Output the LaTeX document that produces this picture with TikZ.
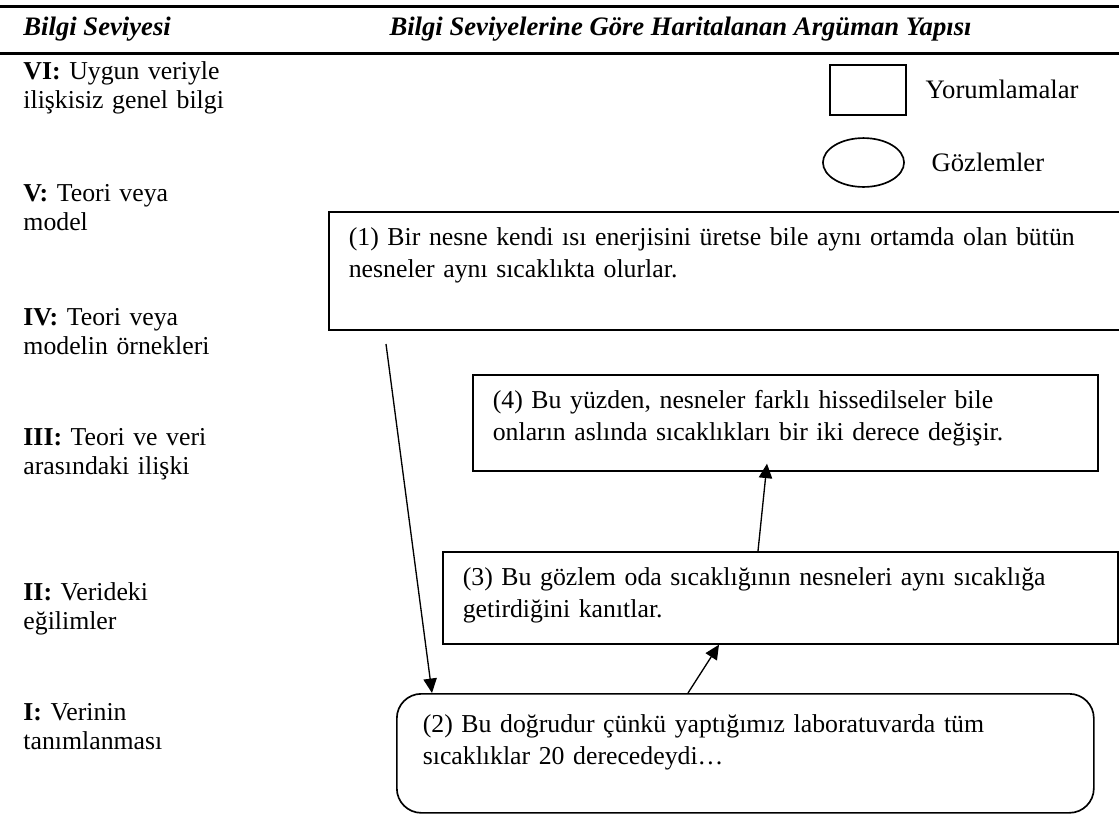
\documentclass[tikz,border=0pt]{standalone}
\usepackage{fontspec}
\setmainfont{Liberation Serif}
\usetikzlibrary{arrows.meta, shapes.geometric, positioning, calc}

\begin{document}
\begin{tikzpicture}[
            x=0.45pt, y=-0.45pt,
            font=\fontsize{11.6}{14.4}\selectfont,
            level/.style={anchor=base west, text width=110pt, align=left, inner sep=0pt, font=\fontsize{11.6}{13.3}\selectfont},
            head/.style={inner sep=0pt, font=\fontsize{12}{14.4}\selectfont\bfseries\itshape},
            keytxt/.style={font=\fontsize{12}{14.4}\selectfont},
            claim/.style={rectangle, draw, line width=0.75pt, anchor=north west, align=left, inner xsep=9pt, inner ysep=6pt, text height=9pt},
            obs/.style={claim, rounded corners=11pt, inner xsep=11.7pt, inner ysep=8.5pt},
            link/.style={-{Triangle[length=6.5pt, width=6pt]}, line width=0.6pt}
        ]
            \useasboundingbox (0,0) rectangle (1119,816);

            % Header
            \draw[line width=1.35pt] (0,6) -- (1119,6);
            \draw[line width=1.35pt] (0,53) -- (1119,53);
            \node[head, anchor=base west] (levhead) at (23,35) {Bilgi Seviyesi};
            \node[head, anchor=base east] (maphead) at (972,35) {Bilgi Seviyelerine Göre Haritalanan Argüman Yapısı};

            % Levels
            \node[level] (lev6) at (23,79) {\textbf{VI:} Uygun veriyle\\ilişkisiz genel bilgi};
            \node[level] (lev5) at (23,201) {\textbf{V:} Teori veya\\model};
            \node[level] (lev4) at (23,325) {\textbf{IV:} Teori veya\\modelin örnekleri};
            \node[level] (lev3) at (23,445) {\textbf{III:} Teori ve veri\\arasındaki ilişki};
            \node[level] (lev2) at (23,600) {\textbf{II:} Verideki\\eğilimler};
            \node[level] (lev1) at (23,720) {\textbf{I:} Verinin\\tanımlanması};

            % Legend
            \node[draw, line width=0.75pt, minimum width=34.2pt, minimum height=22.5pt, inner sep=0pt, anchor=north west] (keyrect) at (829,64) {};
            \node[keytxt, right=5pt of keyrect] (keyrecttxt) {Yorumlamalar};
            \node[draw, ellipse, line width=0.75pt, minimum width=36.5pt, minimum height=22pt, inner sep=0pt] (keyell) at (863.5,162.5) {};
            \node[keytxt, right=8.5pt of keyell] (keyelltxt) {Gözlemler};

            % Argument
            \node[claim, text width=340.2pt, text depth=32.1pt] (claim1) at (328,211) {(1) Bir nesne kendi ısı enerjisini üretse bile aynı ortamda olan bütün\\nesneler aynı sıcaklıkta olurlar.};
            \node[claim, text width=263.25pt, text depth=22.2pt] (claim4) at (472,374) {(4) Bu yüzden, nesneler farklı hissedilseler bile\\onların aslında sıcaklıkları bir iki derece değişir.};
            \node[claim, text width=285.75pt, text depth=20.4pt] (claim3) at (442,551) {(3) Bu gözlem oda sıcaklığının nesneleri aynı sıcaklığa\\getirdiğini kanıtlar.};
            \node[obs, text width=290.25pt, text depth=27.55pt] (obs2) at (396,693) {(2) Bu doğrudur çünkü yaptığımız laboratuvarda tüm\\sıcaklıklar 20 derecedeydi…};

            % Arrows
            \coordinate (start1) at (386,344);
            \path[link]
                (start1) edge ($(obs2.north west)+(36,0)$)
                ($(obs2.north west)+(292,0)$) edge ($(claim3.south west)+(277,0)$)
                ($(claim3.north west)+(316,0)$) edge ($(claim4.south west)+(295,-8)$);

        \end{tikzpicture}
\end{document}
